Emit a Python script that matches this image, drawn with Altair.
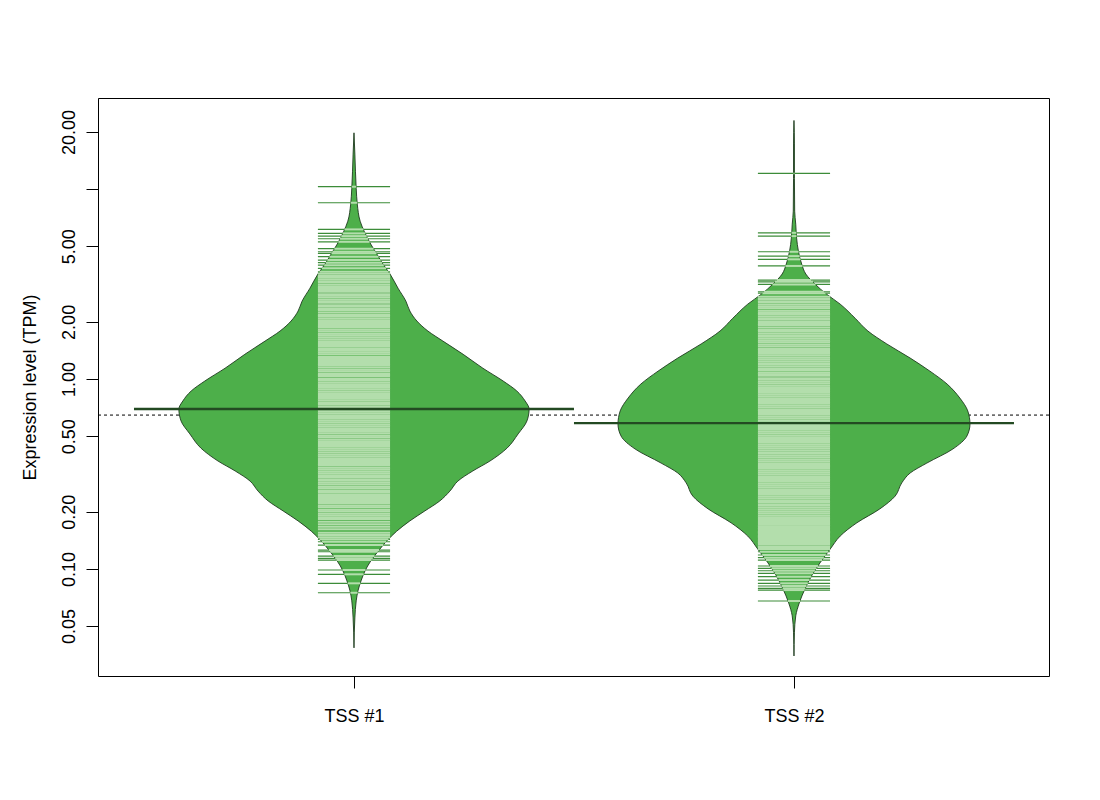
import altair as alt
import numpy as np
import pandas as pd

# ---------------- data ----------------
categories = ["TSS #1", "TSS #2"]
positions = [1, 2]

# bean outlines: value (TPM) and half-width (in x units)
bean1_value = [19.8, 15.3, 10.1, 8.34, 6.78, 6.01, 5.14, 4.55, 4.03, 3.57, 3.01, 2.57, 2.28, 2.02,
               1.79, 1.585, 1.35, 1.14, 0.976, 0.865, 0.766, 0.695, 0.601, 0.514, 0.433, 0.370,
               0.328, 0.290, 0.257, 0.228, 0.202, 0.179, 0.158, 0.140, 0.124, 0.110, 0.0976,
               0.0865, 0.0766, 0.0679, 0.0552, 0.0384]
bean1_halfwidth = [0, 0.002, 0.005, 0.0075, 0.014, 0.023, 0.038, 0.052, 0.066, 0.082, 0.100, 0.118,
                   0.127, 0.143, 0.168, 0.202, 0.248, 0.293, 0.339, 0.370, 0.389, 0.398, 0.393,
                   0.373, 0.348, 0.309, 0.270, 0.236, 0.218, 0.195, 0.161, 0.127, 0.097, 0.074,
                   0.055, 0.038, 0.025, 0.016, 0.009, 0.005, 0.002, 0]

bean2_value = [23.0, 17.3, 11.4, 7.66, 6.54, 5.52, 4.72, 4.03, 3.57, 3.16, 2.80, 2.48, 2.09, 1.79,
               1.53, 1.29, 1.10, 0.941, 0.794, 0.679, 0.580, 0.501, 0.428, 0.361, 0.320, 0.284,
               0.242, 0.207, 0.175, 0.149, 0.127, 0.1075, 0.0919, 0.0785, 0.0662, 0.0566,
               0.0461, 0.0348]
bean2_halfwidth = [0, 0.001, 0.001, 0.0016, 0.004, 0.006, 0.010, 0.0175, 0.027, 0.048, 0.074,
                   0.105, 0.139, 0.168, 0.211, 0.264, 0.309, 0.348, 0.377, 0.395, 0.400, 0.393,
                   0.361, 0.302, 0.264, 0.245, 0.230, 0.195, 0.143, 0.105, 0.082, 0.059, 0.040,
                   0.025, 0.012, 0.004, 0.001, 0]

# individual observations (bean lines), TPM
bean1_points = [
    10.3, 8.48, 6.14, 5.85, 5.66, 5.48, 5.28, 4.86, 4.68, 4.59, 4.41, 4.23, 4.10, 3.98, 3.83, 3.67,
    3.58, 3.49, 3.44, 3.35, 3.27, 3.22, 3.14, 3.06, 3.02, 2.94, 2.88, 2.80, 2.75, 2.70, 2.62, 2.57,
    2.52, 2.45, 2.40, 2.34, 2.30, 2.24, 2.18, 2.15, 2.09, 2.04, 2.00, 1.95, 1.90, 1.87, 1.82, 1.78,
    1.73, 1.70, 1.66, 1.62, 1.58, 1.55, 1.51, 1.48, 1.44, 1.41, 1.38, 1.35, 1.31, 1.29, 1.26, 1.23,
    1.20, 1.18, 1.15, 1.12, 1.10, 1.07, 1.05, 1.03, 1.00, 0.982, 0.958, 0.940, 0.918, 0.900, 0.880,
    0.860, 0.842, 0.823, 0.805, 0.788, 0.770, 0.752, 0.738, 0.720, 0.704, 0.690, 0.674, 0.660,
    0.645, 0.631, 0.617, 0.603, 0.590, 0.576, 0.564, 0.551, 0.539, 0.527, 0.516, 0.503, 0.493,
    0.481, 0.470, 0.460, 0.449, 0.440, 0.429, 0.420, 0.410, 0.401, 0.392, 0.383, 0.375, 0.366,
    0.357, 0.350, 0.341, 0.334, 0.326, 0.319, 0.311, 0.305, 0.297, 0.291, 0.284, 0.278, 0.271,
    0.266, 0.259, 0.254, 0.247, 0.242, 0.236, 0.231, 0.225, 0.221, 0.215, 0.211, 0.205, 0.201,
    0.196, 0.192, 0.187, 0.183, 0.1772, 0.1717, 0.1668, 0.1616, 0.1551, 0.1509, 0.1467, 0.1432,
    0.139, 0.1336, 0.1257, 0.1232, 0.1169, 0.1137, 0.1114, 0.0987, 0.0937, 0.0840, 0.0749]

bean2_points = [
    12.1, 5.89, 5.66, 4.68, 4.44, 4.27, 3.94, 3.32, 3.25, 3.15, 2.88, 2.83, 2.71,
    2.64, 2.57, 2.53, 2.46, 2.40, 2.36, 2.29, 2.24, 2.20, 2.14, 2.09, 2.05, 2.00, 1.95, 1.92, 1.87,
    1.82, 1.79, 1.74, 1.70, 1.67, 1.63, 1.59, 1.56, 1.52, 1.49, 1.45, 1.42, 1.39, 1.36, 1.33, 1.30,
    1.27, 1.24, 1.21, 1.19, 1.16, 1.13, 1.11, 1.08, 1.06, 1.04, 1.01, 0.990, 0.968, 0.946, 0.926,
    0.905, 0.886, 0.866, 0.848, 0.828, 0.811, 0.792, 0.775, 0.758, 0.741, 0.724, 0.709, 0.692,
    0.678, 0.662, 0.648, 0.633, 0.619, 0.605, 0.592, 0.578, 0.566, 0.553, 0.541, 0.528, 0.517,
    0.505, 0.494, 0.483, 0.472, 0.462, 0.451, 0.441, 0.432, 0.422, 0.412, 0.404, 0.394, 0.386,
    0.377, 0.369, 0.360, 0.353, 0.344, 0.337, 0.329, 0.322, 0.315, 0.308, 0.301, 0.294, 0.288,
    0.281, 0.275, 0.269, 0.263, 0.257, 0.251, 0.246, 0.240, 0.235, 0.229, 0.225, 0.219, 0.215,
    0.210, 0.205, 0.200, 0.196, 0.191, 0.187, 0.183, 0.179, 0.1745, 0.171, 0.168, 0.1655,
    0.1622, 0.159, 0.1565, 0.1546, 0.152, 0.149, 0.1472, 0.145, 0.142, 0.1386, 0.1369, 0.134,
    0.1304, 0.1273, 0.1232, 0.1184, 0.1146, 0.1114, 0.1036, 0.1007, 0.0978,
    0.0948, 0.0910, 0.0874, 0.0840, 0.0813, 0.0790, 0.0774, 0.0678]

bean_average = [0.695, 0.586]
overall_average = 0.646

y_ticks = [0.05, 0.1, 0.2, 0.5, 1, 2, 5, 10, 20]

# ---------------- styling ----------------
FILL = "#4DAF4A"
BORDER = "#1E3A1E"
LINE_IN = "#B3DEAC"
LINE_OUT = "#3C8C39"
AVG = "#234A22"
FONT = "Liberation Sans"
LINE_HALF = 0.082
AVG_HALF = 0.5

# ---------------- tables ----------------
beans = [
    (categories[0], positions[0], bean1_value, bean1_halfwidth, bean1_points),
    (categories[1], positions[1], bean2_value, bean2_halfwidth, bean2_points),
]

outline_dfs, line_rows = [], []
for name, pos, vals, hws, pts in beans:
    rows = [{"bean": name, "value": v, "left": pos - h, "right": pos + h}
            for v, h in zip(vals, hws)]
    outline_dfs.append(pd.DataFrame(rows).sort_values("value").reset_index(drop=True))
    lv = np.log10(np.array(vals))[::-1]
    hw = np.array(hws)[::-1]
    for p in pts:
        inner = min(LINE_HALF, float(np.interp(np.log10(p), lv, hw)))
        line_rows.append({"bean": name, "value": p,
                          "x1": pos - LINE_HALF, "x2": pos + LINE_HALF,
                          "i1": pos - inner, "i2": pos + inner})

lines_df = pd.DataFrame(line_rows)
avg_df = pd.DataFrame({"bean": categories, "value": bean_average,
                       "a1": [p - AVG_HALF for p in positions],
                       "a2": [p + AVG_HALF for p in positions]})
overall_df = pd.DataFrame({"value": [overall_average]})

# ---------------- scales / axes ----------------
xscale = alt.Scale(domain=[0.4182, 2.5796], nice=False, zero=False)
yscale = alt.Scale(type="log", domain=[0.0273, 30.2], nice=False)

label_expr_x = " : ".join(
    f"datum.value == {p} ? '{c}'" for p, c in zip(positions[:-1], categories[:-1])
) + f" : '{categories[-1]}'"

xaxis = alt.Axis(values=positions, labelExpr=label_expr_x, title=None, grid=False,
                 domain=False, tickSize=12, tickColor="black", labelColor="black",
                 labelFontSize=18, labelFont=FONT, labelPadding=19)
yaxis = alt.Axis(values=y_ticks,
                 labelExpr="datum.value == 10 ? '' : format(datum.value, '.2f')",
                 title="Expression level (TPM)", grid=False, domain=False, tickSize=12,
                 tickColor="black", labelColor="black", labelFontSize=18, labelFont=FONT,
                 labelAngle=-90, labelPadding=8, titleFont=FONT, titleFontSize=18,
                 titleFontWeight="normal", titleColor="black", titleX=-68, titleY=289,
                 titleBaseline="middle")

Y = alt.Y("value:Q", scale=yscale, axis=yaxis)

overall = alt.Chart(overall_df).mark_rule(color="black", strokeDash=[3, 3], strokeWidth=1).encode(y=Y)

bean_areas = [
    alt.Chart(df).mark_area(
        orient="horizontal", interpolate="monotone", fill=FILL, stroke=BORDER,
        strokeWidth=0.9, opacity=1, fillOpacity=1, line=False
    ).encode(
        y=Y,
        x=alt.X("left:Q", scale=xscale, axis=xaxis),
        x2="right:Q",
    )
    for df in outline_dfs
]

lines_out = alt.Chart(lines_df).mark_rule(color=LINE_OUT, strokeWidth=1.2).encode(
    y=Y, x=alt.X("x1:Q", scale=xscale, axis=xaxis), x2="x2:Q")

lines_in = alt.Chart(lines_df).mark_rule(color=LINE_IN, strokeWidth=2.0).encode(
    y=Y, x=alt.X("i1:Q", scale=xscale, axis=xaxis), x2="i2:Q")

avg_lines = alt.Chart(avg_df).mark_rule(color=AVG, strokeWidth=2.4).encode(
    y=Y, x=alt.X("a1:Q", scale=xscale, axis=xaxis), x2="a2:Q")

chart = alt.layer(overall, *bean_areas, lines_out, lines_in, avg_lines).properties(
    width=951, height=578,
    autosize=alt.AutoSizeParams(type="none"),
    padding={"left": 90, "top": 90, "right": 40, "bottom": 100},
    background="white",
).configure_view(stroke="black", strokeWidth=1)

chart.save("out.html", embed_options={"renderer": "svg", "actions": False})
